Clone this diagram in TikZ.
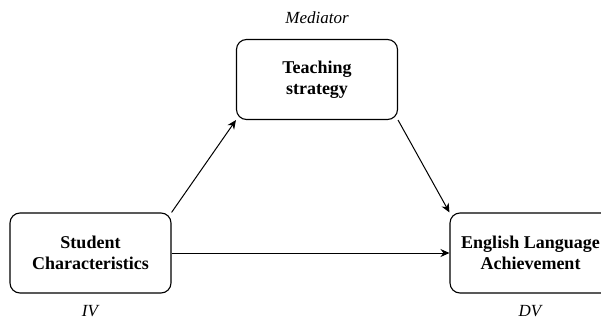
\documentclass[tikz,border=0pt]{standalone}
\usepackage{fontspec}
\setmainfont{Liberation Serif}
\usetikzlibrary{positioning,calc,arrows.meta}
\tikzset{font=\fontsize{18}{21}\selectfont}

\begin{document}
\begin{tikzpicture}[x=1pt,y=1pt]
	\useasboundingbox (0,0) rectangle (601,322);
	\begin{scope}
		\tikzstyle{var}=[draw, line width=1.1pt, rounded corners=10pt, align=center,
			minimum width=161pt, minimum height=80pt, font=\fontsize{18}{21}\selectfont\bfseries]
		\tikzstyle{role}=[inner sep=1pt, font=\fontsize{17}{20}\selectfont\itshape]
		\tikzstyle{arr}=[line width=1pt, -{Stealth[length=9pt,width=8pt]}]
		\node[var] (stu) at (90.5, 69) {Student\\Characteristics};
		\node[var] (tea) at (317, 242.5) {Teaching\\strategy};
		\node[var] (eng) at (530.5, 69) {English Language\\Achievement};

		\node[role] (med) at (317, 304) {Mediator};
		\node[role] (iv) at (90, 11) {IV};
		\node[role] (dv) at (530, 11) {DV};

		\draw[arr] (stu.north east) -- (tea.south west);
		\draw[arr] (tea.south east) -- (eng.north west);
		\draw[arr] (stu) -- (eng);
	\end{scope}
\end{tikzpicture}
\end{document}
